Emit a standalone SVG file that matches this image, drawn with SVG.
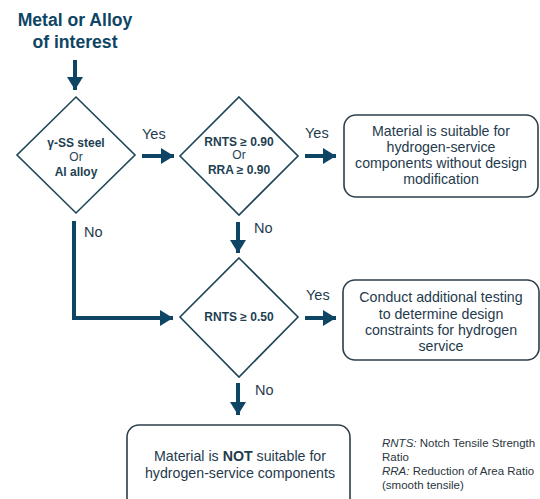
<svg xmlns="http://www.w3.org/2000/svg" width="540" height="499" viewBox="0 0 540 499">
<style>
.title{font-family:"Liberation Sans",Arial,sans-serif;font-weight:bold;font-size:17.6px;fill:#0f4564;text-anchor:middle}
.dia{fill:#fff;stroke:#1d4556;stroke-width:1.6}
.dt{font-family:"Liberation Sans",Arial,sans-serif;font-size:12px;fill:#1d3f52;text-anchor:middle}
.b{font-weight:bold}
.box{fill:#fff;stroke:#2e3e48;stroke-width:1.6}
.bt{font-family:"Liberation Sans",Arial,sans-serif;font-size:14.2px;fill:#1f3b4d;text-anchor:middle}
.lab{font-family:"Liberation Sans",Arial,sans-serif;font-size:14.5px;fill:#1f3b4d}
.leg{font-family:"Liberation Sans",Arial,sans-serif;font-size:11.5px;fill:#2a3540}
.con{fill:none;stroke:#0f4564;stroke-width:4;marker-end:url(#ah)}
</style>
<defs>
<marker id="ah" markerUnits="userSpaceOnUse" markerWidth="16" markerHeight="16" refX="13" refY="8" orient="auto">
<path d="M0,0 L13,8 L0,16 Z" fill="#0f4564"/>
</marker>
</defs>
<rect width="540" height="499" fill="#fff"/>
<g id="start">
<text class="title" x="75" y="26">Metal or Alloy</text>
<text class="title" x="75" y="48">of interest</text>
</g>
<g id="d1">
<polygon class="dia" points="76,97 135,155 76,213 17,155"/>
<text class="dt b" x="76" y="147">γ-SS steel</text>
<text class="dt" x="76" y="161">Or</text>
<text class="dt b" x="76" y="176">Al alloy</text>
</g>
<g id="d2">
<polygon class="dia" points="239,97 298,156 239,215 180,156"/>
<text class="dt b" x="239" y="146">RNTS ≥ 0.90</text>
<text class="dt" x="239" y="159">Or</text>
<text class="dt b" x="239" y="174">RRA ≥ 0.90</text>
</g>
<g id="d3">
<polygon class="dia" points="239,258 298,317 239,377 180,317"/>
<text class="dt b" x="239" y="321">RNTS ≥ 0.50</text>
</g>
<g id="box1">
<rect class="box" x="344" y="115" width="194" height="82" rx="12"/>
<text class="bt" x="441" y="136">Material is suitable for</text>
<text class="bt" x="441" y="152">hydrogen-service</text>
<text class="bt" x="441" y="168">components without design</text>
<text class="bt" x="441" y="184">modification</text>
</g>
<g id="box2">
<rect class="box" x="343" y="280" width="196" height="80" rx="12"/>
<text class="bt" x="441" y="302">Conduct additional testing</text>
<text class="bt" x="441" y="319">to determine design</text>
<text class="bt" x="441" y="335">constraints for hydrogen</text>
<text class="bt" x="441" y="351">service</text>
</g>
<g id="box3">
<rect class="box" x="127" y="425" width="223" height="85" rx="12"/>
<text class="bt" x="240" y="461">Material is <tspan class="b">NOT</tspan> suitable for</text>
<text class="bt" x="240" y="478">hydrogen-service components</text>
</g>
<g id="legend">
<text class="leg" x="382" y="447"><tspan font-style="italic">RNTS:</tspan> Notch Tensile Strength</text>
<text class="leg" x="382" y="461">Ratio</text>
<text class="leg" x="382" y="475"><tspan font-style="italic">RRA:</tspan> Reduction of Area Ratio</text>
<text class="leg" x="382" y="489">(smooth tensile)</text>
</g>
<g id="connectors">
<path class="con" d="M75,60 V90"/>
<path class="con" d="M142,156 H174"/>
<path class="con" d="M305,156 H336"/>
<path class="con" d="M238,222 V253"/>
<path class="con" d="M305,318 H336"/>
<path class="con" d="M238,383 V415"/>
<path class="con" d="M74,221 V318 H173"/>
<text class="lab" x="142" y="139">Yes</text>
<text class="lab" x="305" y="138">Yes</text>
<text class="lab" x="306" y="300">Yes</text>
<text class="lab" x="84" y="237">No</text>
<text class="lab" x="254" y="233">No</text>
<text class="lab" x="255" y="395">No</text>
</g>
</svg>
